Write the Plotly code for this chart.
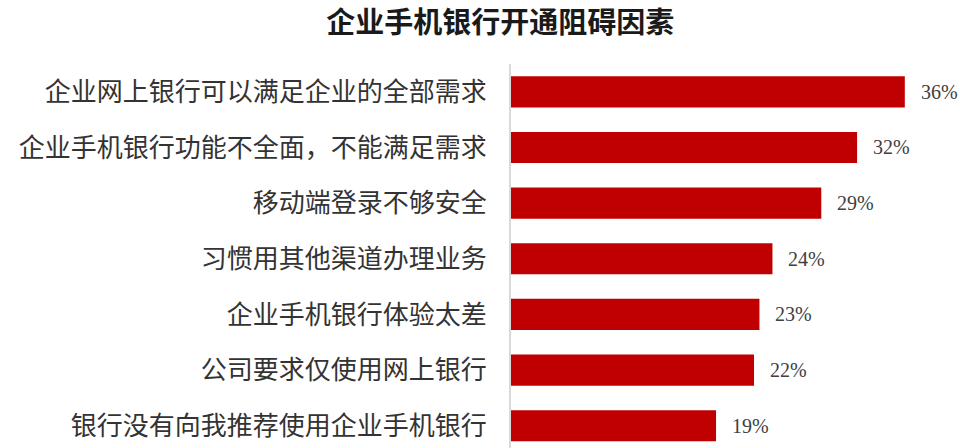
import plotly.graph_objects as go

categories = [
    "企业网上银行可以满足企业的全部需求",
    "企业手机银行功能不全面，不能满足需求",
    "移动端登录不够安全",
    "习惯用其他渠道办理业务",
    "企业手机银行体验太差",
    "公司要求仅使用网上银行",
    "银行没有向我推荐使用企业手机银行",
]
values = [36.3, 31.9, 28.6, 24.1, 22.9, 22.4, 18.9]
value_labels = ["36%", "32%", "29%", "24%", "23%", "22%", "19%"]

fig = go.Figure()
fig.add_trace(go.Bar(
    x=values, y=categories, orientation="h",
    marker=dict(color="#C00000", line=dict(width=0)),
    width=0.56,
    hoverinfo="skip",
))

for c, v, t in zip(categories, values, value_labels):
    fig.add_annotation(x=v, y=c, text=t, xanchor="left", yanchor="middle",
                       xshift=14, showarrow=False,
                       font=dict(family="Liberation Serif, serif", size=20, color="#404040"))

fig.update_layout(
    width=960, height=448,
    margin=dict(l=511, r=12, t=64, b=0, autoexpand=False),
    paper_bgcolor="white", plot_bgcolor="white",
    showlegend=False,
    title=dict(text="<b>企业手机银行开通阻碍因素</b>", x=0.521, xanchor="center",
               y=0.95, yanchor="middle",
               font=dict(family="Noto Sans CJK SC", size=29, color="#1a1a1a")),
    xaxis=dict(range=[0, 40.28], visible=False, fixedrange=True, automargin=False),
    yaxis=dict(range=[6.4, -0.5], showline=True, linecolor="#d9d9d9", linewidth=2,
               ticks="", showgrid=False, ticklabelstandoff=17, automargin=False,
               fixedrange=True,
               tickfont=dict(family="Noto Sans CJK SC", size=26, color="#333333")),
)

fig.write_html("out.html", config={"displayModeBar": False},
               post_script="document.body.style.margin='0';document.body.style.overflow='hidden';")
